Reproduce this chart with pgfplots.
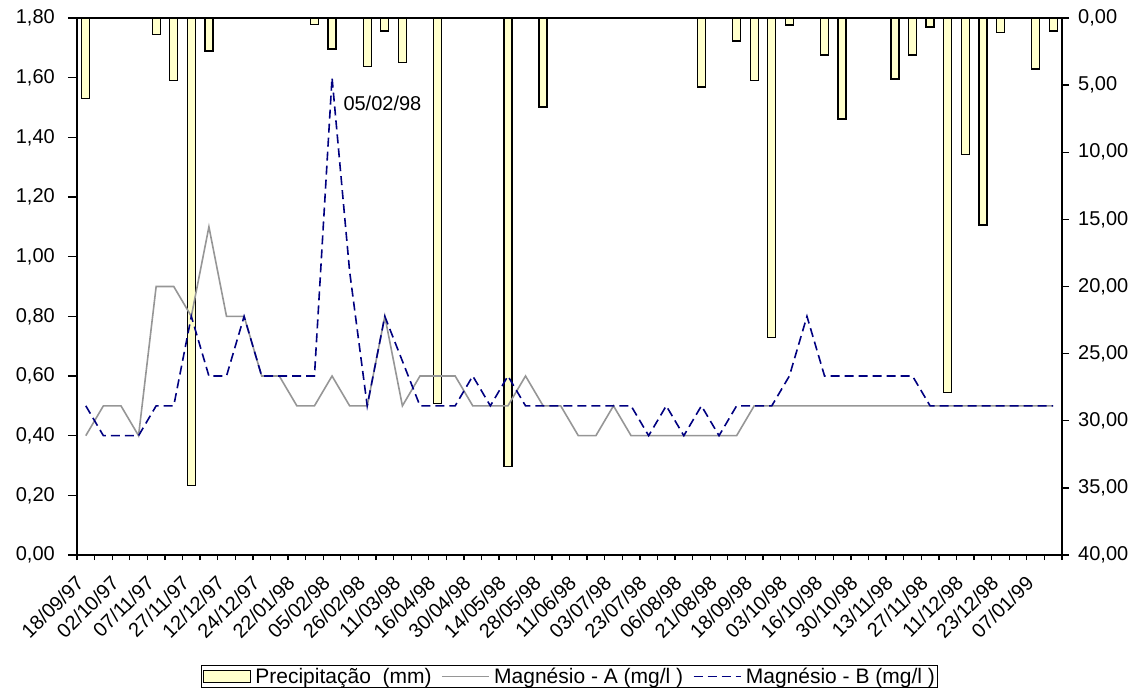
\documentclass[border=0pt]{standalone}
\usepackage{fontspec}
\setmainfont{Liberation Sans}
\usepackage{pgfplots}
\pgfplotsset{compat=1.18}
\definecolor{barfill}{HTML}{FFFFCC}
\definecolor{mgA}{HTML}{969696}
\definecolor{mgB}{HTML}{000080}
\newcommand{\tf}{\fontsize{20}{24}\selectfont}
\newcommand{\lf}{\fontsize{21}{25}\selectfont}
\pgfplotsset{
  linelegend/.style={legend image code/.code={\draw[##1] (0pt,0pt) -- (47pt,0pt);}},
  barlegend/.style={legend image code/.code={\draw[fill=barfill, draw=black, line width=1.3pt] (0pt,-6pt) rectangle (47pt,6pt);}},
}
\begin{document}
\begin{tikzpicture}
\path[use as bounding box] (-77pt,-139pt) rectangle (1055pt,555pt);
% ---------- precipitation (right axis, reversed) ----------
\begin{axis}[
  at={(0pt,0pt)}, anchor=south west,
  scale only axis, width=985pt, height=537pt,
  xmin=-0.5, xmax=55.5,
  ymin=0, ymax=40, y dir=reverse,
  axis x line=none,
  axis y line*=right,
  y axis line style={line width=1.3pt,-},
  xtick=\empty,
  ytick={0,5,10,15,20,25,30,35,40},
  tick align=outside,
  major tick length=7pt,
  ytick style={line width=1.3pt, black},
  yticklabel style={font=\tf, anchor=west, inner sep=0pt, xshift=9pt},
  /pgf/number format/fixed,
  /pgf/number format/fixed zerofill,
  /pgf/number format/precision=2,
  /pgf/number format/use comma,
  /pgf/number format/assume math mode=true,
]
\addplot[ybar, bar width=8pt, bar shift=0pt, fill=barfill, draw=black, line width=1.3pt] coordinates {
(0,6.0) (4,1.24) (5,4.67) (6,34.8) (7,2.46) (13,0.5) (14,2.31) (16,3.63) (17,0.97) (18,3.33)
(20,28.7) (24,33.4) (26,6.63) (35,5.14) (37,1.71) (38,4.67) (39,23.8) (40,0.52) (42,2.76) (43,7.52)
(46,4.54) (47,2.76) (48,0.67) (49,27.9) (50,10.18) (51,15.42) (52,1.09) (54,3.8) (55,0.97)
};
\end{axis}
% ---------- magnesium (left axis) ----------
\begin{axis}[
  at={(0pt,0pt)}, anchor=south west,
  scale only axis, width=985pt, height=537pt,
  xmin=-0.5, xmax=55.5,
  ymin=0, ymax=1.8,
  axis line style={line width=1.3pt},
  xtick={0,2,...,54},
  xticklabels={18/09/97,02/10/97,07/11/97,27/11/97,12/12/97,24/12/97,22/01/98,05/02/98,26/02/98,11/03/98,16/04/98,30/04/98,14/05/98,28/05/98,11/06/98,03/07/98,23/07/98,06/08/98,21/08/98,18/09/98,03/10/98,16/10/98,30/10/98,13/11/98,27/11/98,11/12/98,23/12/98,07/01/99},
  minor xtick={-0.5,0.5,...,55.5},
  ytick={0,0.2,0.4,0.6,0.8,1,1.2,1.4,1.6,1.8},
  xtick pos=left, ytick pos=left,
  tick align=outside,
  major tick length=9pt, minor tick length=5pt,
  tick style={line width=1.3pt, black},
  major x tick style={draw=none},
  xticklabel style={font=\tf, inner sep=0pt, xshift=-11pt, yshift=-10pt, anchor=north east, rotate=45},
  yticklabel style={font=\tf, inner sep=0pt, anchor=east, xshift=-13pt},
  /pgf/number format/fixed,
  /pgf/number format/fixed zerofill,
  /pgf/number format/precision=2,
  /pgf/number format/use comma,
  /pgf/number format/assume math mode=true,
  legend style={at={(0.5,0)}, anchor=north, yshift=-110pt, draw=black, line width=1.3pt,
    font=\lf, inner xsep=1pt, inner ysep=1pt, nodes={inner sep=1.5pt},
    /tikz/every odd column/.append style={column sep=3pt},
    /tikz/every even column/.append style={column sep=8pt}},
  legend columns=-1,
]
\addlegendimage{barlegend}
\addlegendentry{Precipitação~ (mm)}
\addplot[mgA, line width=1.6pt, sharp plot, linelegend] coordinates {
(0,0.40) (1,0.50) (2,0.50) (3,0.40) (4,0.90) (5,0.90) (6,0.80) (7,1.10) (8,0.80) (9,0.80)
(10,0.60) (11,0.60) (12,0.50) (13,0.50) (14,0.60) (15,0.50) (16,0.50) (17,0.80) (18,0.50) (19,0.60)
(20,0.60) (21,0.60) (22,0.50) (23,0.50) (24,0.50) (25,0.60) (26,0.50) (27,0.50) (28,0.40) (29,0.40)
(30,0.50) (31,0.40) (32,0.40) (33,0.40) (34,0.40) (35,0.40) (36,0.40) (37,0.40) (38,0.50) (39,0.50)
(40,0.50) (41,0.50) (42,0.50) (43,0.50) (44,0.50) (45,0.50) (46,0.50) (47,0.50) (48,0.50) (49,0.50)
(50,0.50) (51,0.50) (52,0.50) (53,0.50) (54,0.50) (55,0.50)
};
\addlegendentry{Magnésio - A (mg/l )}
\addplot[mgB, line width=1.6pt, dash pattern=on 9pt off 5pt, sharp plot, linelegend] coordinates {
(0,0.50) (1,0.40) (2,0.40) (3,0.40) (4,0.50) (5,0.50) (6,0.80) (7,0.60) (8,0.60) (9,0.80)
(10,0.60) (11,0.60) (12,0.60) (13,0.60) (14,1.60) (15,0.95) (16,0.50) (17,0.80) (18,0.65) (19,0.50)
(20,0.50) (21,0.50) (22,0.60) (23,0.50) (24,0.60) (25,0.50) (26,0.50) (27,0.50) (28,0.50) (29,0.50)
(30,0.50) (31,0.50) (32,0.40) (33,0.50) (34,0.40) (35,0.50) (36,0.40) (37,0.50) (38,0.50) (39,0.50)
(40,0.60) (41,0.80) (42,0.60) (43,0.60) (44,0.60) (45,0.60) (46,0.60) (47,0.60) (48,0.50) (49,0.50)
(50,0.50) (51,0.50) (52,0.50) (53,0.50) (54,0.50) (55,0.50)
};
\addlegendentry{Magnésio - B (mg/l )}
\node[font=\tf, anchor=west, inner sep=0pt] at (axis cs:14.64,1.515) {05/02/98};
\end{axis}
\end{tikzpicture}
\end{document}
